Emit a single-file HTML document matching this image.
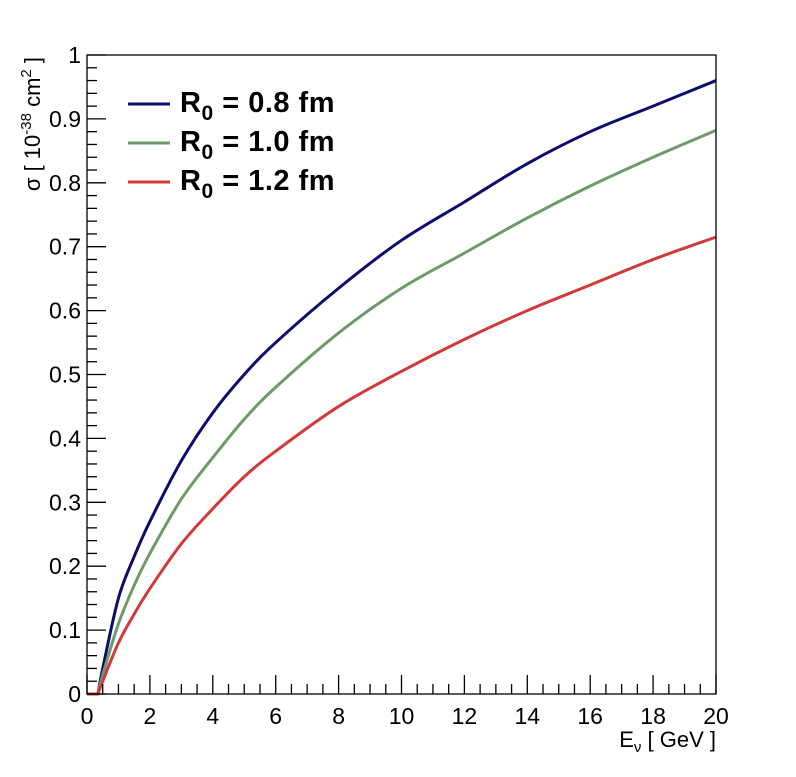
<!DOCTYPE html><html><head><style>body{margin:0;background:#fff}</style></head><body>
<svg width="796" height="772" xmlns="http://www.w3.org/2000/svg" font-family="Liberation Sans, sans-serif">
<rect width="796" height="772" fill="#fff"/>
<g fill="none" stroke-width="3" stroke-linejoin="round" id="curves"></g>
<rect x="87" y="55" width="629" height="639" fill="none" stroke="#000" stroke-width="1.3"/>
<g id="t" stroke="#000" stroke-width="1.3"></g>
<g font-size="23" text-anchor="end" id="yl"></g>
<g font-size="23" text-anchor="middle" id="xl"></g>
<text x="716" y="747" font-size="22" text-anchor="end">E<tspan font-size="15" dy="5">ν</tspan><tspan dy="-5">  [ GeV ]</tspan></text>
<text transform="translate(40,57) rotate(-90)" font-size="22" text-anchor="end">σ  [ 10<tspan font-size="15" dy="-9">-38</tspan><tspan dy="9"> cm</tspan><tspan font-size="15" dy="-9">2</tspan><tspan dy="9"> ]</tspan></text>
<g stroke-width="3"><line x1="128" y1="104" x2="170" y2="104" stroke="#0c0c6e"/><line x1="128" y1="143" x2="170" y2="143" stroke="#6e9a6a"/><line x1="128" y1="182" x2="170" y2="182" stroke="#d03a3a"/></g>
<g font-size="29" font-weight="bold" letter-spacing="0.5">
<text x="180" y="112">R<tspan font-size="21" dy="8">0</tspan><tspan dy="-8"> = 0.8 fm</tspan></text>
<text x="180" y="151">R<tspan font-size="21" dy="8">0</tspan><tspan dy="-8"> = 1.0 fm</tspan></text>
<text x="180" y="190">R<tspan font-size="21" dy="8">0</tspan><tspan dy="-8"> = 1.2 fm</tspan></text>
</g>
</svg>
<script>
var ns="http://www.w3.org/2000/svg",t=document.getElementById('t'),yl=document.getElementById('yl'),xl=document.getElementById('xl');
function L(a,b,c,d){var l=document.createElementNS(ns,'line');l.setAttribute('x1',a);l.setAttribute('y1',b);l.setAttribute('x2',c);l.setAttribute('y2',d);t.appendChild(l);}
function T(g,x,y,s){var e=document.createElementNS(ns,'text');e.setAttribute('x',x);e.setAttribute('y',y);e.textContent=s;g.appendChild(e);}
for(var i=0;i<=50;i++){var y=694-639*i/50;L(87,y,87+(i%5?10:19),y);if(i%5==0){var v=i/50;T(yl,81,y+8,v==0?'0':v==1?'1':v.toFixed(1));}}
for(var i=0;i<=40;i++){var x=87+629*i/40;L(x,694,x,694-(i%4?10:19));if(i%4==0)T(xl,x,724,String(i/2));}
var E=[0.35,0.5,1,1.5,2,3,4,5,6,8,10,12,14,16,18,20];
var S=[["#0c0c6e",[0,.04,.15,.215,.27,.365,.44,.5,.55,.635,.71,.77,.83,.88,.92,.96]],
["#6e9a6a",[0,.03,.11,.17,.22,.305,.37,.43,.48,.565,.635,.69,.745,.795,.84,.882]],
["#d03a3a",[0,.02,.08,.125,.165,.235,.29,.34,.38,.45,.505,.555,.6,.64,.68,.715]]];
var c=document.getElementById('curves');
S.forEach(function(s){var P=E.map(function(e,i){return[87+31.45*e,694-639*s[1][i]];});
var d="M87,694 L"+P[0][0]+",694";
for(var i=0;i<P.length-1;i++){var p0=P[Math.max(i-1,0)],p1=P[i],p2=P[i+1],p3=P[Math.min(i+2,P.length-1)];
var k=i==0?0:1/6;
d+=" C"+(p1[0]+(p2[0]-p0[0])*k)+","+(p1[1]+(p2[1]-p0[1])*k)+" "+(p2[0]-(p3[0]-p1[0])/6)+","+(p2[1]-(p3[1]-p1[1])/6)+" "+p2[0]+","+p2[1];}
var p=document.createElementNS(ns,'path');p.setAttribute('d',d);p.setAttribute('stroke',s[0]);c.appendChild(p);});
</script>
</body></html>
